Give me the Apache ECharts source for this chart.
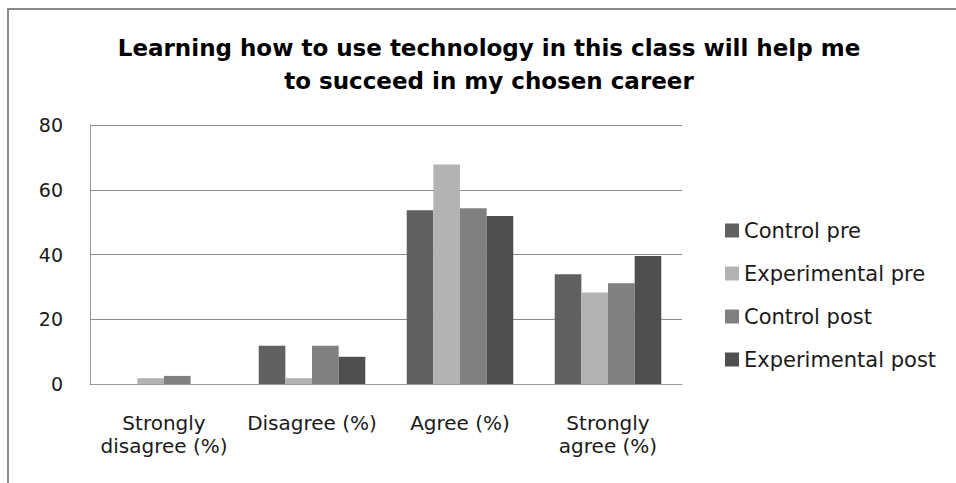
<!DOCTYPE html>
<html>
<head>
<meta charset="utf-8">
<style>
  html, body { margin: 0; padding: 0; background: #ffffff; }
  #chart { width: 956px; height: 483px; }
</style>
<script src="https://cdn.jsdelivr.net/npm/echarts@6/dist/echarts.min.js"></script>
</head>
<body>
<div id="chart"></div>
<script>
// Survey responses, percent of each group
const categories = ['Strongly\ndisagree (%)', 'Disagree (%)', 'Agree (%)', 'Strongly\nagree (%)'];
const seriesNames = ['Control pre', 'Experimental pre', 'Control post', 'Experimental post'];
const controlPre = [0, 11.8, 53.7, 33.9];
const experimentalPre = [1.8, 1.8, 67.8, 28.3];
const controlPost = [2.5, 11.8, 54.3, 31.1];
const experimentalPost = [0, 8.4, 51.9, 39.5];
const yTicks = { min: 0, max: 80, interval: 20 };

const seriesValues = [controlPre, experimentalPre, controlPost, experimentalPost];
const seriesColors = ['#616161', '#b3b3b3', '#808080', '#4f4f4f'];

const chart = echarts.init(document.getElementById('chart'), null, { renderer: 'svg' });

chart.setOption({
  backgroundColor: '#ffffff',
  animation: false,
  title: {
    text: 'Learning how to use technology in this class will help me\nto succeed in my chosen career',
    left: 489,
    top: 31,
    padding: 0,
    textAlign: 'center',
    textStyle: {
      fontFamily: '"DejaVu Sans"',
      fontWeight: 'bold',
      fontSize: 23,
      lineHeight: 33,
      color: '#000000'
    }
  },
  graphic: [{
    type: 'rect',
    shape: { x: 8, y: 9, width: 1200, height: 1200 },
    style: { fill: 'none', stroke: '#8a8a8a', lineWidth: 2 },
    silent: true
  }],
  legend: {
    orient: 'vertical',
    left: 725,
    top: 220,
    padding: 0,
    itemWidth: 14,
    itemHeight: 14,
    itemGap: 22,
    icon: 'rect',
    textStyle: {
      fontFamily: '"DejaVu Sans"',
      fontSize: 21,
      lineHeight: 21,
      color: '#1a1a1a'
    },
    data: seriesNames
  },
  grid: {
    left: 90,
    right: 274,
    top: 125,
    bottom: 99,
    containLabel: false
  },
  xAxis: {
    type: 'category',
    data: categories,
    axisLine: { show: true, lineStyle: { color: '#9a9a9a', width: 1 } },
    axisTick: { show: false },
    axisLabel: {
      interval: 0,
      margin: 27,
      fontFamily: '"DejaVu Sans"',
      fontSize: 20,
      lineHeight: 23,
      color: '#1a1a1a'
    }
  },
  yAxis: {
    type: 'value',
    min: yTicks.min,
    max: yTicks.max,
    interval: yTicks.interval,
    axisLine: { show: true, lineStyle: { color: '#9a9a9a', width: 1 } },
    axisTick: { show: false },
    splitLine: { show: true, lineStyle: { color: '#8c8c8c', width: 1 } },
    axisLabel: {
      margin: 27,
      fontFamily: '"DejaVu Sans"',
      fontSize: 19,
      color: '#1a1a1a'
    }
  },
  series: seriesNames.map((name, i) => ({
    name: name,
    type: 'bar',
    data: seriesValues[i],
    barGap: '0%',
    barCategoryGap: '28%',
    itemStyle: { color: seriesColors[i] }
  }))
});
</script>
</body>
</html>
